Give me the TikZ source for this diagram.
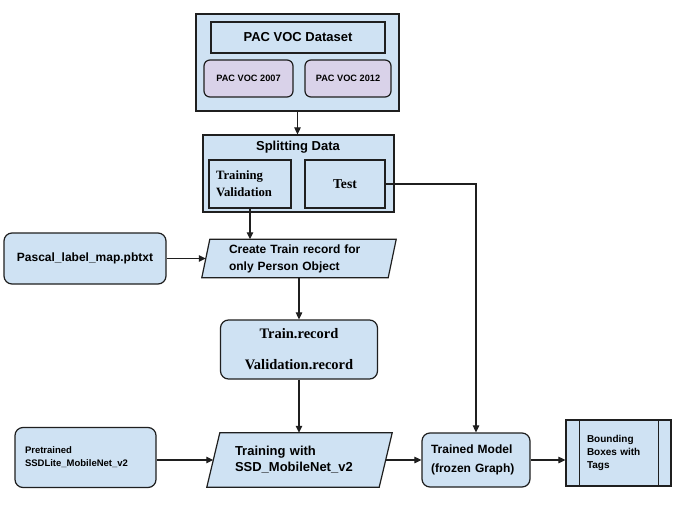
\documentclass[tikz,border=0pt]{standalone}
\usepackage{fontspec}
\usetikzlibrary{arrows.meta,backgrounds}
\newfontfamily\lsans{Liberation Sans}
\newfontfamily\lserif{Liberation Serif}
\newcommand\fsz[2]{\fontsize{#1}{#2}\selectfont}
\definecolor{bluef}{HTML}{CFE2F3}
\definecolor{purplef}{HTML}{D9D2E9}
\definecolor{linec}{HTML}{1F1F1F}
\begin{document}
\begin{tikzpicture}[x=1pt,y=-1pt,
  box/.style={draw=linec,fill=bluef,line width=1.2pt,inner sep=0pt,anchor=center},
  rbox/.style={box,rounded corners=8pt},
  ghost/.style={inner sep=0pt,anchor=center},
  txt/.style={inner sep=0pt,anchor=center,text=black},
  pad/.style={inner xsep=#1,align=left},
  conn/.style={draw=linec,line width=1.1pt,-{Triangle[length=7pt,width=6.5pt]}},
  plain/.style={draw=linec,line width=1.2pt}]
\useasboundingbox (0,0) rectangle (684,508);

% PAC VOC group
\node[box,minimum width=203pt,minimum height=97pt] (pacouter) at (297.5,62.5) {};
\node[box,minimum width=174pt,minimum height=31pt,font=\lsans\bfseries\fsz{13}{15}] (pacds) at (298,37.5) {PAC VOC Dataset};
\node[box,fill=purplef,rounded corners=6pt,minimum width=89pt,minimum height=37pt,font=\lsans\bfseries\fsz{9.2}{11}] (voc07) at (248.5,78.5) {PAC VOC 2007};
\node[box,fill=purplef,rounded corners=6pt,minimum width=86pt,minimum height=37pt,font=\lsans\bfseries\fsz{9.2}{11}] (voc12) at (348,78.5) {PAC VOC 2012};

% Splitting group
\node[box,minimum width=191pt,minimum height=77pt] (split) at (298.5,173.5) {};
\node[txt,font=\lsans\bfseries\fsz{13}{15}] (splittitle) at (298,147) {Splitting Data};
\node[box,pad=7pt,text width=68pt,minimum height=48pt,font=\lserif\bfseries\fsz{12.7}{17}] (trainval) at (250,184) {Training\\Validation};
\node[box,minimum width=80pt,minimum height=48pt,font=\lserif\bfseries\fsz{13.6}{15}] (test) at (345,184) {Test};

% Pascal label map
\node[rbox,minimum width=162pt,minimum height=51pt,font=\lsans\bfseries\fsz{12}{14}] (pascal) at (85,258.5) {Pascal\_label\_map.pbtxt};

% Create record (parallelogram)
\node[ghost,pad=27pt,text width=140pt,minimum height=38pt,font=\lsans\bfseries\fsz{12}{17}] (create) at (299,258.5) {Create Train record for\\only Person Object};

% Train record
\node[rbox,minimum width=157pt,minimum height=59pt,align=center,font=\lserif\bfseries\fsz{14.5}{31}] (trainrec) at (299,349.5) {Train.record\\Validation.record};

% Pretrained
\node[rbox,pad=10pt,text width=121pt,minimum height=60pt,font=\lsans\bfseries\fsz{9.5}{13}] (pretrained) at (85.5,457.5) {Pretrained\\SSDLite\_MobileNet\_v2};

% Training (parallelogram)
\node[ghost,pad=28pt,text width=129pt,minimum height=54pt,font=\lsans\bfseries\fsz{13}{16}] (training) at (299.5,460) {Training with\\SSD\_MobileNet\_v2};

% Trained model
\node[rbox,pad=9pt,text width=90pt,minimum height=54pt,font=\lsans\bfseries\fsz{12}{19}] (trained) at (476,460) {Trained Model\\(frozen Graph)};

% Bounding boxes (predefined process)
\node[box,pad=21pt,text width=63pt,minimum height=66pt,font=\lsans\bfseries\fsz{10}{13}] (bbox) at (618.5,453) {Bounding\\Boxes with\\Tags};
\draw[plain] ([xshift=14pt]bbox.north west) -- ([xshift=14pt]bbox.south west);
\draw[plain] ([xshift=-13pt]bbox.north east) -- ([xshift=-13pt]bbox.south east);

\begin{pgfonlayer}{background}
\fill[white] (0,0) rectangle (684,508);
\draw[draw=linec,fill=bluef,line width=1.2pt] ([xshift=8pt]create.north west) -- (create.north east) -- ([xshift=-8pt]create.south east) -- (create.south west) -- cycle;
\draw[draw=linec,fill=bluef,line width=1.2pt] ([xshift=13pt]training.north west) -- (training.north east) -- ([xshift=-13pt]training.south east) -- (training.south west) -- cycle;
\end{pgfonlayer}

% Connectors
\draw[conn] (pacouter.south) -- (pacouter.south |- split.north);
\draw[conn] (trainval.south) -- (trainval.south |- create.north);
\draw[conn] (test.east) -| (trained.north);
\draw[conn] (pascal.east) -- ([xshift=4pt]create.west);
\draw[conn] (create.south) -- (trainrec.north);
\draw[conn] (trainrec.south) -- (trainrec.south |- training.north);
\draw[conn] (pretrained.east |- training.west) -- ([xshift=6.5pt]training.west);
\draw[conn] ([xshift=-6.5pt]training.east) -- (trained.west);
\draw[conn] (trained.east) -- (trained.east -| bbox.west);
\end{tikzpicture}
\end{document}
